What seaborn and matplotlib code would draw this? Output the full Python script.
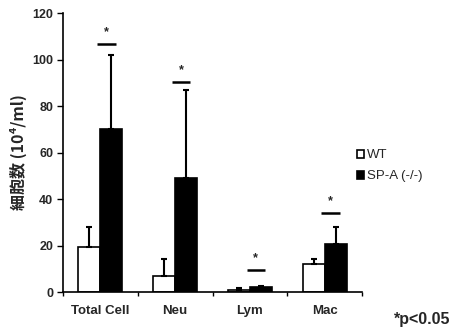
import matplotlib
matplotlib.use("Agg")
import matplotlib.pyplot as plt
import numpy as np
import pandas as pd
import seaborn as sns

# values
categories = ["Total Cell", "Neu", "Lym", "Mac"]
groups = ["WT", "SP-A (-/-)"]
wt_mean = [19.5, 7, 1, 12]
wt_err = [8.5, 7, 0.6, 2]
ko_mean = [70, 49, 2, 20.5]
ko_err = [32, 38, 0.6, 7.5]
sig_line = [106.5, 90.5, 9.5, 34]
yticks = [0, 20, 40, 60, 80, 100, 120]

df = pd.DataFrame({
    "cat": categories * 2,
    "group": [groups[0]] * 4 + [groups[1]] * 4,
    "value": wt_mean + ko_mean,
})

sns.set_style("white")
plt.rcParams["font.family"] = ["Liberation Sans", "DejaVu Sans"]

fig = plt.figure(figsize=(4.51, 3.31), dpi=100)
ax = fig.add_axes([0.1397, 0.1178, 0.663, 0.8429])

sns.barplot(data=df, x="cat", y="value", hue="group", palette=["white", "black"],
            edgecolor="black", linewidth=1.2, width=0.59, errorbar=None,
            legend=True, ax=ax)

# upward error bars only, positioned on the seaborn bars
errs = wt_err + ko_err
for patch, e in zip(ax.patches[:8], errs):
    x = patch.get_x() + patch.get_width() / 2
    h = patch.get_height()
    ax.errorbar([x], [h], yerr=[[0], [e]], fmt="none", ecolor="black",
                elinewidth=1.5, capsize=2.2, capthick=1.5)

# significance marks
for i, y in enumerate(sig_line):
    cx = i + 0.08
    ax.plot([cx - 0.125, cx + 0.125], [y, y], color="black", lw=1.8,
            solid_capstyle="butt")
    ax.text(cx, y + 2.5, "*", ha="center", va="bottom", fontsize=9,
            fontweight="bold")

ax.set_ylim(0, 120)
ax.set_xlim(-0.5, 3.5)
ax.set_yticks(yticks)
ax.set_yticklabels([str(t) for t in yticks], fontsize=9, fontweight="bold")
ax.set_xticks(range(4))
ax.set_xticklabels(categories, fontsize=9.5, fontweight="bold")
ax.set_xticks(np.arange(-0.5, 4, 1), minor=True)
ax.tick_params(axis="x", which="major", length=0, pad=9)
ax.tick_params(axis="x", which="minor", length=3, width=1, direction="out",
               bottom=True, color="black")
ax.tick_params(axis="y", length=4, width=1, direction="out", left=True,
               color="black", pad=3)
ax.set_xlabel("")
ax.set_ylabel("細胞数 (10⁴/ml)", fontsize=11.5, fontweight="bold",
              family=["Noto Sans CJK JP", "DejaVu Sans"], labelpad=4)

for s in ["top", "right"]:
    ax.spines[s].set_visible(False)
for s in ["left", "bottom"]:
    ax.spines[s].set_color("black")
    ax.spines[s].set_linewidth(1.2)

handles, labels = ax.get_legend_handles_labels()
ax.legend(handles, labels, loc="upper left", bbox_to_anchor=(0.78, 0.565),
          bbox_transform=fig.transFigure, frameon=False, fontsize=9.5,
          handlelength=0.55, handleheight=0.55, handletextpad=0.2,
          labelspacing=0.7, borderaxespad=0)

fig.text(0.998, 0.035, "*p<0.05", ha="right", va="center", fontsize=11.5,
         fontweight="bold")

fig.savefig("out.png", dpi=100)
